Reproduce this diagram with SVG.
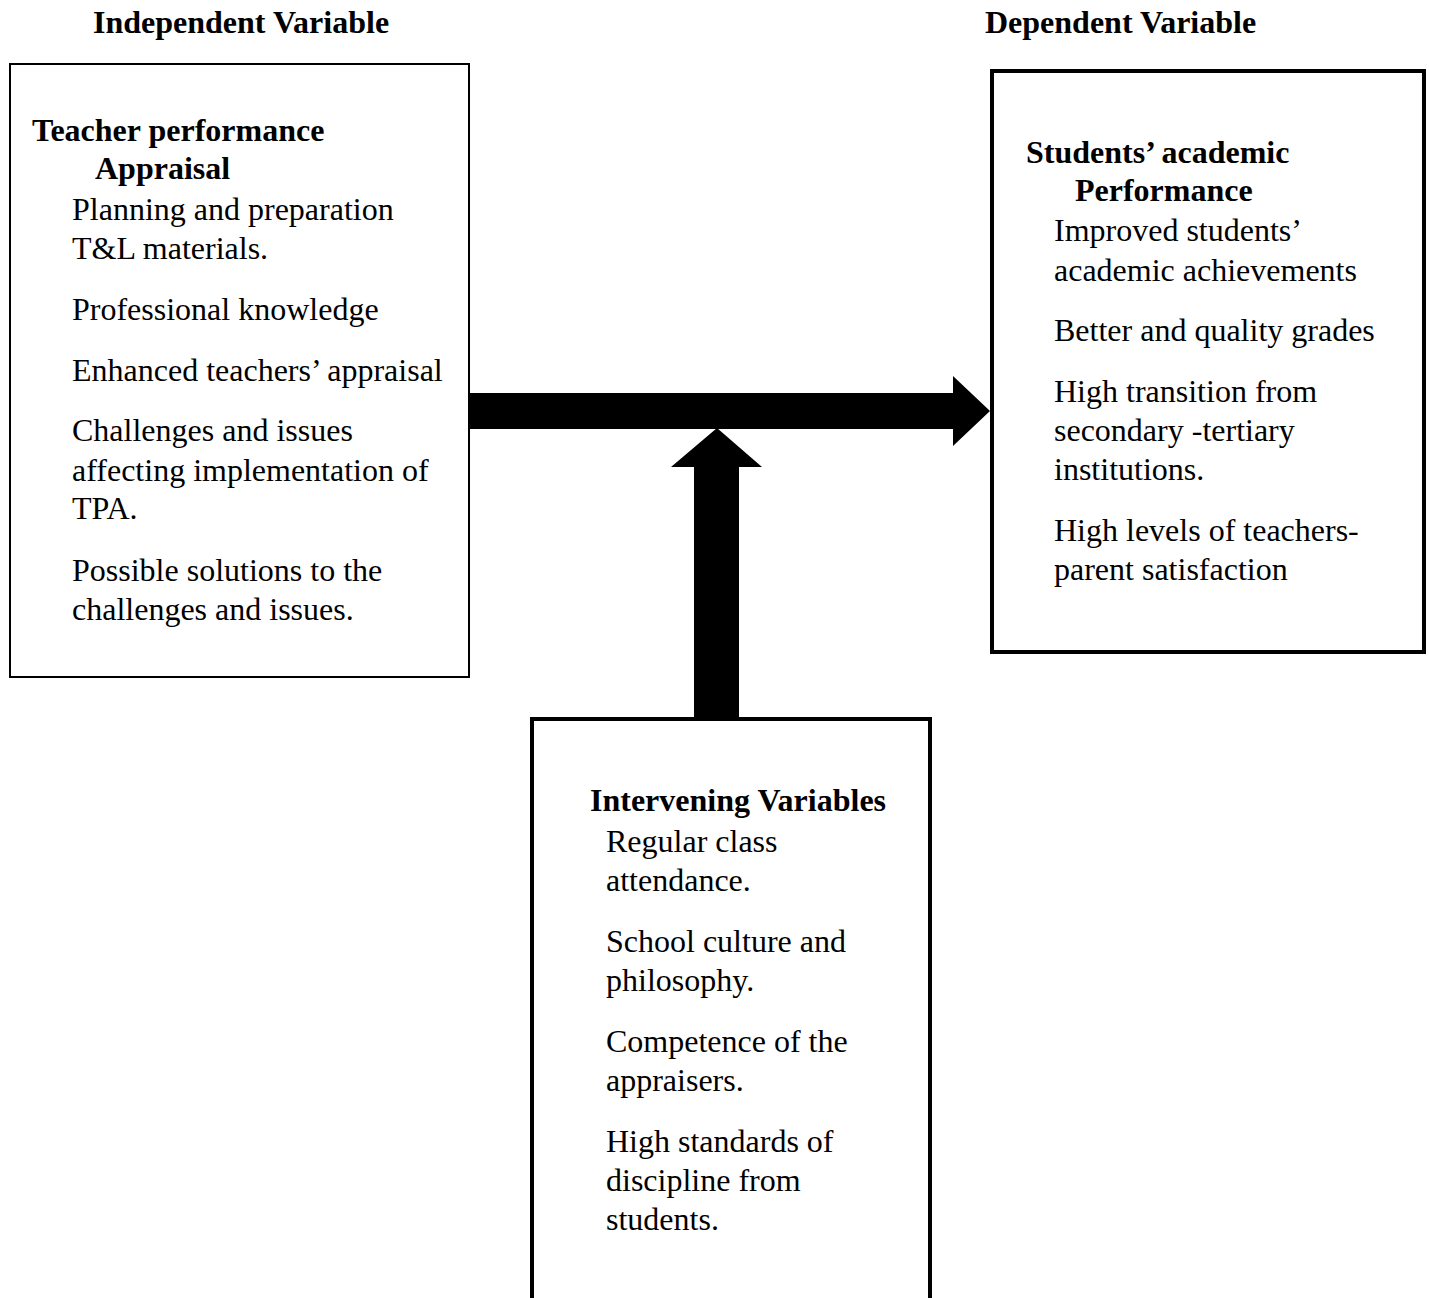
<svg xmlns="http://www.w3.org/2000/svg" width="1429" height="1298" viewBox="0 0 1429 1298">
<style>
text{font-family:"Liberation Serif","Times New Roman",serif;font-size:32px;fill:#000}
.b{font-weight:bold}
.box{fill:#fff;stroke:#000}
</style>
<rect width="1429" height="1298" fill="#fff"/>
<text class="b" x="93" y="33">Independent Variable</text>
<text class="b" x="985" y="33">Dependent Variable</text>
<g id="connectors">
<polygon points="469,393 953,393 953,376 990,411 953,446 953,429 469,429" fill="#000"/>
<polygon points="694,718 694,467 671,467 717,428 762,467 739,467 739,718" fill="#000"/>
</g>
<g id="independent">
<rect class="box" x="10" y="64" width="459" height="613" stroke-width="2"/>
<text class="b" x="32" y="141">Teacher performance</text>
<text class="b" x="95" y="179">Appraisal</text>
<text x="72" y="220">Planning and preparation</text>
<text x="72" y="259">T&amp;L materials.</text>
<text x="72" y="320">Professional knowledge</text>
<text x="72" y="381">Enhanced teachers’ appraisal</text>
<text x="72" y="441">Challenges and issues</text>
<text x="72" y="481">affecting implementation of</text>
<text x="72" y="519">TPA.</text>
<text x="72" y="581">Possible solutions to the</text>
<text x="72" y="620">challenges and issues.</text>
</g>
<g id="dependent">
<rect class="box" x="992" y="71" width="432" height="581" stroke-width="4"/>
<text class="b" x="1026" y="163">Students’ academic</text>
<text class="b" x="1075" y="201">Performance</text>
<text x="1054" y="241">Improved students’</text>
<text x="1054" y="281">academic achievements</text>
<text x="1054" y="341">Better and quality grades</text>
<text x="1054" y="402">High transition from</text>
<text x="1054" y="441">secondary -tertiary</text>
<text x="1054" y="480">institutions.</text>
<text x="1054" y="541">High levels of teachers-</text>
<text x="1054" y="580">parent satisfaction</text>
</g>
<g id="intervening">
<rect class="box" x="532" y="719" width="398" height="582" stroke-width="4"/>
<text class="b" x="590" y="811">Intervening Variables</text>
<text x="606" y="852">Regular class</text>
<text x="606" y="891">attendance.</text>
<text x="606" y="952">School culture and</text>
<text x="606" y="991">philosophy.</text>
<text x="606" y="1052">Competence of the</text>
<text x="606" y="1091">appraisers.</text>
<text x="606" y="1152">High standards of</text>
<text x="606" y="1191">discipline from</text>
<text x="606" y="1230">students.</text>
</g>
</svg>
